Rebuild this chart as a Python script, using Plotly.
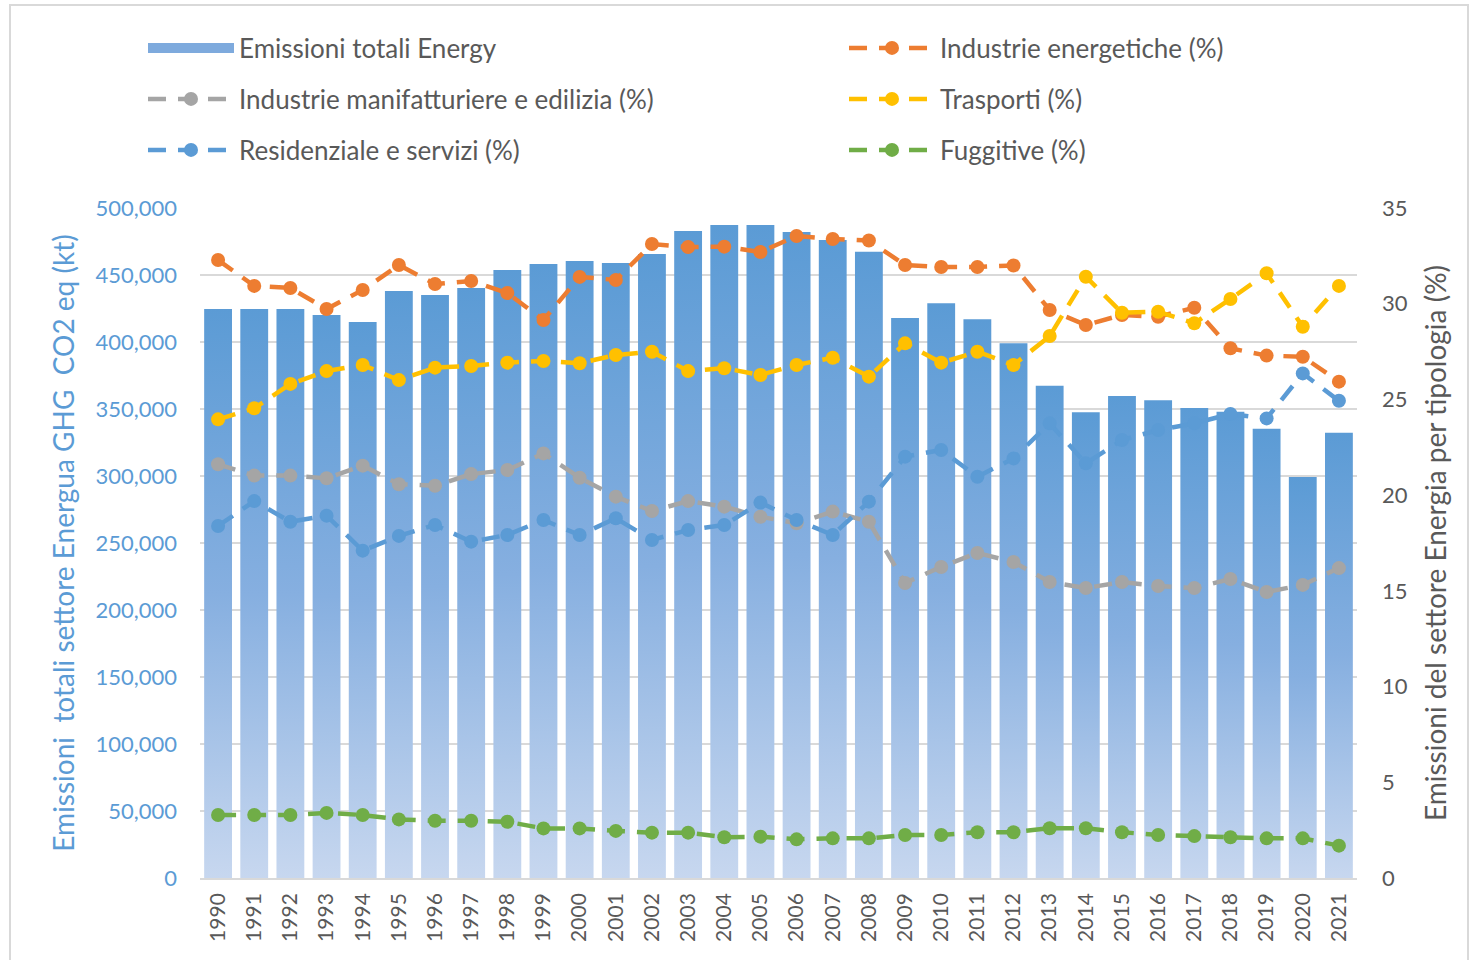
import plotly.graph_objects as go

years = list(range(1990, 2022))
year_labels = [str(y) for y in years]

emissioni_totali = [424600, 424600, 424600, 420100, 414900, 438000, 435000, 440300, 453700, 458200,
                    460400, 459000, 465700, 482800, 487300, 487300, 482000, 476100, 467400, 417900,
                    428900, 416900, 399000, 367400, 347500, 359700, 356500, 350700, 348000, 335300,
                    299300, 332300]

ind_energetiche = [32.28, 30.93, 30.82, 29.72, 30.72, 32.02, 31.03, 31.19, 30.56, 29.15,
                   31.40, 31.24, 33.12, 32.96, 32.98, 32.70, 33.54, 33.38, 33.30, 32.02,
                   31.92, 31.92, 32.00, 29.67, 28.89, 29.41, 29.32, 29.79, 27.67, 27.29,
                   27.23, 25.93]

ind_manifatturiere = [21.61, 21.02, 21.02, 20.88, 21.54, 20.57, 20.49, 21.10, 21.31, 22.18,
                      20.91, 19.92, 19.17, 19.69, 19.40, 18.87, 18.53, 19.14, 18.61, 15.41,
                      16.25, 16.98, 16.51, 15.46, 15.15, 15.46, 15.25, 15.15, 15.62, 14.94,
                      15.31, 16.19]

trasporti = [23.96, 24.54, 25.81, 26.48, 26.80, 26.01, 26.66, 26.75, 26.92, 27.01,
             26.89, 27.32, 27.49, 26.48, 26.63, 26.28, 26.80, 27.18, 26.19, 27.93,
             26.92, 27.49, 26.80, 28.31, 31.41, 29.53, 29.58, 28.98, 30.25, 31.59,
             28.80, 30.93]

residenziale = [18.39, 19.69, 18.61, 18.93, 17.10, 17.87, 18.44, 17.57, 17.92, 18.70,
                17.92, 18.79, 17.66, 18.18, 18.44, 19.61, 18.70, 17.92, 19.66, 22.01,
                22.36, 20.96, 21.92, 23.75, 21.66, 22.88, 23.40, 23.75, 24.24, 24.01,
                26.36, 24.93]

fuggitive = [3.29, 3.29, 3.29, 3.40, 3.29, 3.06, 2.99, 2.99, 2.94, 2.59,
             2.59, 2.46, 2.37, 2.37, 2.13, 2.16, 2.02, 2.07, 2.07, 2.25,
             2.25, 2.39, 2.39, 2.60, 2.60, 2.39, 2.25, 2.19, 2.13, 2.07,
             2.07, 1.69]

FONT = "Lato, 'Open Sans', sans-serif"
GRAY_TXT = "#595959"
BLUE = "#5b9bd5"
BAR_HALF = 0.385

fig = go.Figure()

# Bars drawn as filled rectangles with a vertical gradient (one per year)
for yr, v in zip(years, emissioni_totali):
    fig.add_trace(go.Scatter(
        x=[yr - BAR_HALF, yr + BAR_HALF, yr + BAR_HALF, yr - BAR_HALF, yr - BAR_HALF],
        y=[0, 0, v, v, 0],
        mode="lines", fill="toself",
        line=dict(width=0, color=BLUE),
        fillgradient=dict(type="vertical",
                          colorscale=[[0, "#c7d7ef"], [0.5, "#86afe0"], [1, "#5b9bd5"]]),
        name="Emissioni totali Energy",
        legendgroup="bars", showlegend=False,
        hoverinfo="skip",
    ))

# legend entry for the bars
fig.add_trace(go.Scatter(
    x=[None], y=[None], mode="lines", name="Emissioni totali Energy",
    line=dict(color="#7eaadd", width=14), legendgroup="bars", legend="legend",
))

line_series = [
    ("Industrie energetiche (%)", ind_energetiche, "#ed7d31", "legend2"),
    ("Industrie manifatturiere e edilizia (%)", ind_manifatturiere, "#a5a5a5", "legend3"),
    ("Trasporti (%)", trasporti, "#ffc000", "legend4"),
    ("Residenziale e servizi (%)", residenziale, "#5b9bd5", "legend5"),
    ("Fuggitive (%)", fuggitive, "#70ad47", "legend6"),
]

for name, vals, col, leg in line_series:
    fig.add_trace(go.Scatter(
        x=years, y=vals, yaxis="y2", mode="lines+markers", name=name,
        line=dict(color=col, width=4.5, dash="18px,12px"),
        marker=dict(color=col, size=14),
        legend=leg,
    ))

leg_common = dict(orientation="h", itemwidth=86, xanchor="left", yanchor="middle",
                  font=dict(family=FONT, size=26, color=GRAY_TXT), bgcolor="rgba(0,0,0,0)")
col1_x = (143 - 200) / 1157
col2_x = (844 - 200) / 1157
row_y = [(878 - 48) / 670, (878 - 99) / 670, (878 - 150) / 670]

fig.update_layout(
    width=1476, height=960,
    margin=dict(l=200, r=119, t=208, b=82, autoexpand=False),
    paper_bgcolor="white", plot_bgcolor="white",
    font=dict(family=FONT, color=GRAY_TXT),
    legend=dict(x=col1_x, y=row_y[0], **leg_common),
    legend2=dict(x=col2_x, y=row_y[0], **leg_common),
    legend3=dict(x=col1_x, y=row_y[1], **leg_common),
    legend4=dict(x=col2_x, y=row_y[1], **leg_common),
    legend5=dict(x=col1_x, y=row_y[2], **leg_common),
    legend6=dict(x=col2_x, y=row_y[2], **leg_common),
    xaxis=dict(range=[1989.5, 2021.5], tickvals=years, ticktext=year_labels, tickangle=-90,
               showgrid=False, zeroline=False, showline=True, linecolor="#d9d9d9", linewidth=1.5,
               ticks="", tickfont=dict(family=FONT, size=21, color=GRAY_TXT), ticklabelstandoff=5),
    yaxis=dict(range=[0, 500000], dtick=50000, tickformat=",", showgrid=True, gridcolor="#d9d9d9",
               gridwidth=1.5, zeroline=False, ticks="",
               tickfont=dict(family=FONT, size=22, color=BLUE), ticklabelstandoff=22,
               title=dict(text="Emissioni\u00a0 totali settore Energua GHG\u00a0 CO2 eq (kt)",
                          font=dict(family=FONT, size=28, color=BLUE), standoff=12)),
    yaxis2=dict(range=[0, 35], dtick=5, overlaying="y", side="right", showgrid=False,
                zeroline=False, ticks="",
                tickfont=dict(family=FONT, size=22, color=GRAY_TXT), ticklabelstandoff=24,
                title=dict(text="Emissioni del settore Energia per tipologia (%)",
                           font=dict(family=FONT, size=28, color=GRAY_TXT), standoff=19)),
    shapes=[dict(type="rect", xref="paper", yref="paper",
                 x0=(10 - 200) / 1157, x1=(1468 - 200) / 1157,
                 y0=(878 - 965) / 670, y1=(878 - 5) / 670,
                 line=dict(color="#d9d9d9", width=2), fillcolor="rgba(0,0,0,0)", layer="below")],
)

fig.write_html("out.html", config={"displayModeBar": False},
               post_script="document.body.style.margin='0px';")
